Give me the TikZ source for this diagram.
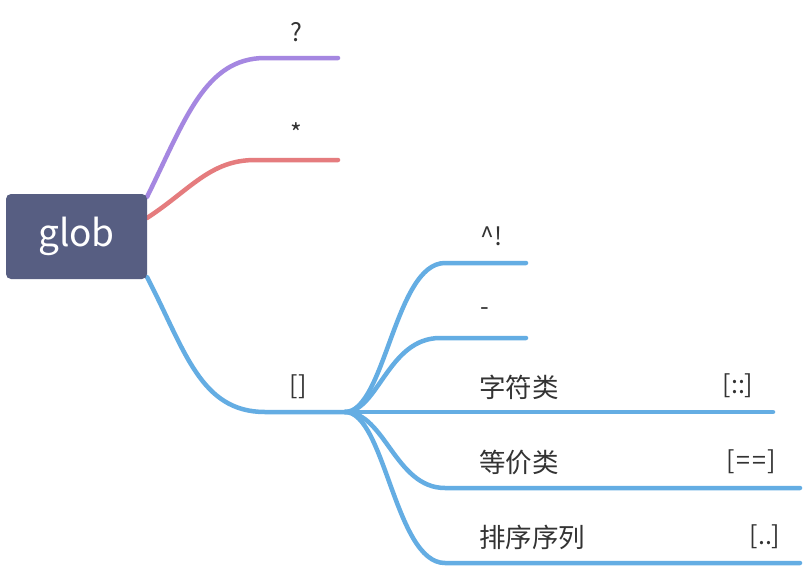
\documentclass[tikz,border=0pt]{standalone}
\usepackage{fontspec}
\setmainfont{Noto Sans CJK SC}
\definecolor{rootfill}{HTML}{575E82}
\definecolor{cpurple}{HTML}{A587E1}
\definecolor{cred}{HTML}{E57C7E}
\definecolor{cblue}{HTML}{64ADE3}
\definecolor{ctext}{HTML}{333333}
\begin{document}
\begin{tikzpicture}[x=1pt,y=-1pt,
  branch/.style={line width=4.5pt, line cap=round},
  lbl/.style={text=ctext, font=\fontsize{25}{29}\selectfont, inner sep=0pt},
  lblw/.style={text=ctext, font=\fontsize{26.5}{30}\selectfont, inner sep=0pt, anchor=west},
  rootbox/.style={fill=rootfill, rounded corners=5pt, text=white, font=\fontsize{37}{40}\selectfont, minimum width=141pt, minimum height=85pt, inner sep=0pt}
]
\useasboundingbox[fill=white] (0,0) rectangle (804,568);

% coordinates
\coordinate (pS) at (147,197);
\coordinate (pM) at (265,58);
\coordinate (pE) at (338,58);
\coordinate (rS) at (147,218);
\coordinate (rM) at (255,160);
\coordinate (rE) at (338,160);
\coordinate (bS) at (147,277);
\coordinate (bM) at (265,412);
\coordinate (bE) at (345,412);
\coordinate (c1M) at (445,263);
\coordinate (c1E) at (526,263);
\coordinate (c2M) at (440,338);
\coordinate (c2E) at (526,338);
\coordinate (c3E) at (773,412);
\coordinate (c4M) at (445,488);
\coordinate (c4E) at (800,488);
\coordinate (c5M) at (445,563);
\coordinate (c5E) at (800,563);

% branches from root
\draw[branch, cpurple] (pS) .. controls (185,120) and (205,58) .. (pM) -- (pE);
\draw[branch, cred] (rS) .. controls (190,190) and (210,160) .. (rM) -- (rE);
\draw[branch, cblue] (bS) .. controls (185,350) and (200,412) .. (bM) -- (bE);

% children of []
\draw[branch, cblue] (bE) .. controls (385,412) and (395,263) .. (c1M) -- (c1E);
\draw[branch, cblue] (bE) .. controls (378,412) and (388,338) .. (c2M) -- (c2E);
\draw[branch, cblue] (bE) -- (c3E);
\draw[branch, cblue] (bE) .. controls (385,412) and (395,488) .. (c4M) -- (c4E);
\draw[branch, cblue] (bE) .. controls (385,412) and (395,563) .. (c5M) -- (c5E);

% root
\node[rootbox] (root) at (76.5,236.5) {glob};

% labels
\node[lbl] (q) at (296,32) {?};
\node[lbl] (star) at (296,133) {*};
\node[lbl] (br) at (298,387) {[]};
\node[lbl, anchor=west] (caret) at (480,236) {\^{}!};
\node[lbl, anchor=west] (dash) at (480,312) {-};
\node[lblw] (zfl) at (479,387) {字符类};
\node[lbl] (zflsym) at (738,386) {[::]};
\node[lblw] (djl) at (479,462) {等价类};
\node[lbl] (djlsym) at (751,462) {[\hspace{1.5pt}=\hspace{2pt}=\hspace{1.5pt}]};
\node[lblw] (pxxl) at (479,537) {排序序列};
\node[lbl] (pxxlsym) at (765,537) {[..]};
\end{tikzpicture}
\end{document}
